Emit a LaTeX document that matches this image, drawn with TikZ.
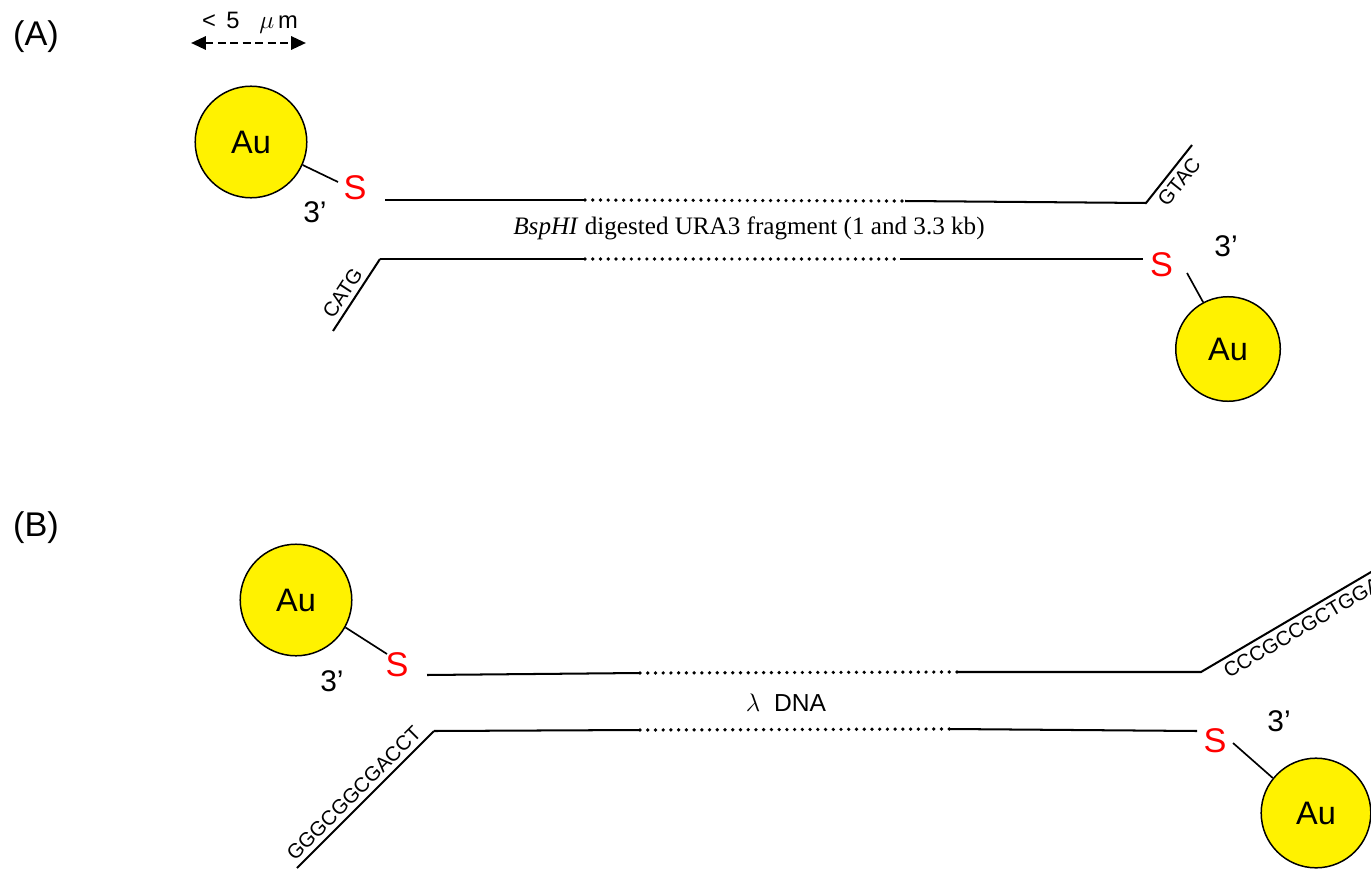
\documentclass[tikz,border=0pt]{standalone}
\usepackage{fontspec}
\setmainfont{Liberation Sans}
\newfontfamily\serifface{Liberation Serif}
\usetikzlibrary{arrows.meta,calc}

\tikzset{
  gold/.style={circle, draw=black, line width=0.85pt, fill=yellow, inner sep=0pt,
    minimum size=#1, font=\fontsize{18.5}{20}\selectfont},
  sulfur/.style={text=red, inner sep=0pt, font=\fontsize{19.5}{22}\selectfont},
  prime/.style={anchor=base, inner sep=0pt, font=\fontsize{17}{20}\selectfont},
  panel/.style={anchor=base, inner sep=0pt, font=\fontsize{19.5}{22}\selectfont},
  strand/.style={line width=1.15pt, line join=miter},
  gap/.style={line width=2.1pt, line cap=round, dash pattern=on 0pt off 4.4pt},
  linker/.style={line width=0.95pt},
  seq/.style={font=\fontsize{11.6}{13}\selectfont, inner sep=2.6pt},
}

\begin{document}
\begin{tikzpicture}[x=0.02cm, y=-0.02cm]
\useasboundingbox (0,0) rectangle (1371,868);

% ---------------- panel (A) ----------------
\node[panel] (labA) at (36,46) {(A)};

% scale bar
\node[anchor=base, inner sep=0pt, font=\fontsize{13.5}{15}\selectfont] (scale) at (250,29) {<\ \,5\ \ \ $\mu$\,m};
\coordinate (barL) at (191,43);
\coordinate (barR) at (306,43);
\draw[line width=1.5pt, dash pattern=on 4.5pt off 2.6pt,
      {Triangle[length=8.5pt,width=7.5pt]}-{Triangle[length=8.5pt,width=7.5pt]}] (barL) -- (barR);

% gold beads, thiol groups and 3' labels
\node[gold=63.5pt] (au1) at (251,142) {Au};
\node[sulfur] (s1) at (355,188) {S};
\node[prime] (p1) at (315,222) {3’};
\coordinate (l1) at (338,182);
\draw[linker] (au1.-24) -- (l1);

\node[gold=59.5pt] (au2) at (1228,349) {Au};
\node[sulfur] (s2) at (1161.5,264.5) {S};
\node[prime] (p2) at (1226,256) {3’};
\coordinate (l2) at (1187,273);
\draw[linker] (l2) -- (au2.118);

% upper strand
\coordinate (aT0) at (385,200);
\coordinate (aT1) at (585,200);
\coordinate (aT2) at (905,201);
\coordinate (aT3) at (1146,203);
\coordinate (aT4) at (1192,145);
\draw[strand] (aT0) -- (aT1);
\draw[gap] (aT1) -- (aT2);
\draw[strand] (aT2) -- (aT3) -- (aT4)
  node[seq, midway, sloped, below] (gtac) {GTAC};

% lower strand
\coordinate (aB0) at (333,331);
\coordinate (aB1) at (380,259);
\coordinate (aB2) at (585,259);
\coordinate (aB3) at (900,259);
\coordinate (aB4) at (1143,259);
\draw[strand] (aB0) -- (aB1)
  node[seq, pos=0.43, sloped, above] (catg) {CATG};
\draw[strand] (aB1) -- (aB2);
\draw[gap] (aB2) -- (aB3);
\draw[strand] (aB3) -- (aB4);

\node[anchor=base, inner sep=0pt, font=\serifface\fontsize{14.3}{16}\selectfont] (fragA) at (749,235)
  {\textit{BspHI} digested URA3 fragment (1 and 3.3 kb)};

% ---------------- panel (B) ----------------
\node[panel] (labB) at (36,536) {(B)};

\node[gold=63.5pt] (au3) at (296,600) {Au};
\node[sulfur] (s3) at (397,665) {S};
\node[prime] (p3) at (332,691) {3’};
\coordinate (l3) at (387,654);
\draw[linker] (au3.-29) -- (l3);

\node[gold=62.4pt] (au4) at (1316,813) {Au};
\node[sulfur] (s4) at (1215,740.5) {S};
\node[prime] (p4) at (1279,731) {3’};
\coordinate (l4) at (1233,743);
\draw[linker] (l4) -- (au4.141);

% upper strand with cohesive end
\coordinate (bT0) at (427,675);
\coordinate (bT1) at (640,673);
\coordinate (bT2) at (958,672);
\coordinate (bT3) at (1201,672);
\coordinate (bT4) at (1400,555);
\draw[strand] (bT0) -- (bT1);
\draw[gap] (bT1) -- (bT2);
\draw[strand] (bT2) -- (bT3) -- (bT4)
  node[seq, pos=0.065, sloped, anchor=north west] (cosR) {CCCGCCGCTGGA};

% lower strand with cohesive end
\coordinate (bB0) at (297,868);
\coordinate (bB1) at (434,731);
\coordinate (bB2) at (640,730);
\coordinate (bB3) at (950,729);
\coordinate (bB4) at (1197,731);
\draw[strand] (bB0) -- (bB1)
  node[seq, pos=0.48, sloped, above] (cosL) {GGGCGGCGACCT};
\draw[strand] (bB1) -- (bB2);
\draw[gap] (bB2) -- (bB3);
\draw[strand] (bB3) -- (bB4);

\node[anchor=base, inner sep=0pt, font=\fontsize{14}{16}\selectfont] (lam) at (786,711) {$\lambda$\ \ DNA};
\end{tikzpicture}
\end{document}
